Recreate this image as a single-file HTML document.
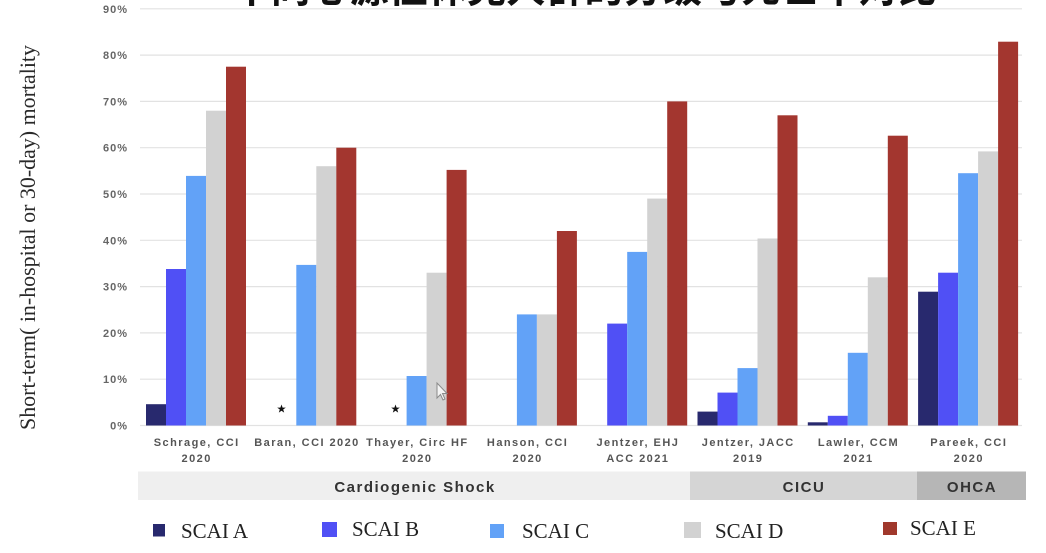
<!DOCTYPE html>
<html>
<head>
<meta charset="utf-8">
<style>
  html,body{margin:0;padding:0;background:#ffffff;}
  body{width:1046px;height:553px;overflow:hidden;}
  svg{display:block;}
  .tick{font-family:"Liberation Sans",sans-serif;font-weight:bold;font-size:11px;fill:#666;letter-spacing:1px;}
  .cat{font-family:"Liberation Sans",sans-serif;font-weight:bold;font-size:11px;fill:#555;letter-spacing:1.45px;}
  .band{font-family:"Liberation Sans",sans-serif;font-weight:bold;font-size:15px;fill:#333;letter-spacing:1.5px;}
  .leg{font-family:"Liberation Serif",serif;font-size:21px;fill:#222;}
  .ytitle{font-family:"Liberation Serif",serif;font-size:22px;fill:#2a2a2a;}
  .title{font-family:"Liberation Sans","Noto Sans CJK SC",sans-serif;font-weight:bold;font-size:40px;fill:#111;}
</style>
</head>
<body>
<svg width="1046" height="553" viewBox="0 0 1046 553" xmlns="http://www.w3.org/2000/svg">
  <rect x="0" y="0" width="1046" height="553" fill="#ffffff"/>

  <!-- cut-off title -->
  <text class="title" x="232" y="2" textLength="705" lengthAdjust="spacingAndGlyphs">不同心源性休克人群的分级与死亡率对比</text>

  <!-- gridlines -->
  <g stroke="#e2e2e2" stroke-width="1.2">
    <line x1="140" y1="425.5" x2="1022" y2="425.5"/>
    <line x1="140" y1="379.2" x2="1022" y2="379.2"/>
    <line x1="140" y1="332.9" x2="1022" y2="332.9"/>
    <line x1="140" y1="286.6" x2="1022" y2="286.6"/>
    <line x1="140" y1="240.3" x2="1022" y2="240.3"/>
    <line x1="140" y1="194.0" x2="1022" y2="194.0"/>
    <line x1="140" y1="147.7" x2="1022" y2="147.7"/>
    <line x1="140" y1="101.4" x2="1022" y2="101.4"/>
    <line x1="140" y1="55.1" x2="1022" y2="55.1"/>
    <line x1="140" y1="8.8" x2="1022" y2="8.8"/>
  </g>

  <!-- tick labels -->
  <g class="tick" text-anchor="end">
    <text x="128" y="429.5">0%</text>
    <text x="128" y="383.2">10%</text>
    <text x="128" y="336.9">20%</text>
    <text x="128" y="290.6">30%</text>
    <text x="128" y="244.3">40%</text>
    <text x="128" y="198.0">50%</text>
    <text x="128" y="151.7">60%</text>
    <text x="128" y="105.4">70%</text>
    <text x="128" y="59.1">80%</text>
    <text x="128" y="12.8">90%</text>
  </g>

  <!-- y axis title -->
  <text class="ytitle" transform="translate(35,237.5) rotate(-90)" text-anchor="middle" textLength="385" lengthAdjust="spacingAndGlyphs">Short-term( in-hospital or 30-day) mortality</text>

  <!-- G1 Schrage -->
  <rect x="146" y="404.2" width="20" height="21.3" fill="#28296e"/>
  <rect x="166" y="269.0" width="20" height="156.5" fill="#5050f5"/>
  <rect x="186" y="175.9" width="20" height="249.6" fill="#62a2f7"/>
  <rect x="206" y="110.7" width="20" height="314.8" fill="#d2d2d2"/>
  <rect x="226" y="66.7" width="20" height="358.8" fill="#a3362f"/>

  <!-- G2 Baran -->
  <rect x="296.3" y="264.9" width="20" height="160.6" fill="#62a2f7"/>
  <rect x="316.3" y="166.2" width="20" height="259.3" fill="#d2d2d2"/>
  <rect x="336.3" y="147.7" width="20" height="277.8" fill="#a3362f"/>

  <!-- G3 Thayer -->
  <rect x="406.6" y="376.0" width="20" height="49.5" fill="#62a2f7"/>
  <rect x="426.6" y="272.7" width="20" height="152.8" fill="#d2d2d2"/>
  <rect x="446.6" y="169.9" width="20" height="255.6" fill="#a3362f"/>

  <!-- G4 Hanson -->
  <rect x="516.9" y="314.4" width="20" height="111.1" fill="#62a2f7"/>
  <rect x="536.9" y="314.4" width="20" height="111.1" fill="#d2d2d2"/>
  <rect x="556.9" y="231.0" width="20" height="194.5" fill="#a3362f"/>

  <!-- G5 Jentzer EHJ -->
  <rect x="607.2" y="323.6" width="20" height="101.9" fill="#5050f5"/>
  <rect x="627.2" y="251.9" width="20" height="173.6" fill="#62a2f7"/>
  <rect x="647.2" y="198.6" width="20" height="226.9" fill="#d2d2d2"/>
  <rect x="667.2" y="101.4" width="20" height="324.1" fill="#a3362f"/>

  <!-- G6 Jentzer JACC -->
  <rect x="697.5" y="411.6" width="20" height="13.9" fill="#28296e"/>
  <rect x="717.5" y="392.6" width="20" height="32.9" fill="#5050f5"/>
  <rect x="737.5" y="368.1" width="20" height="57.4" fill="#62a2f7"/>
  <rect x="757.5" y="238.5" width="20" height="187.0" fill="#d2d2d2"/>
  <rect x="777.5" y="115.3" width="20" height="310.2" fill="#a3362f"/>

  <!-- G7 Lawler -->
  <rect x="807.8" y="422.3" width="20" height="3.2" fill="#28296e"/>
  <rect x="827.8" y="415.8" width="20" height="9.7" fill="#5050f5"/>
  <rect x="847.8" y="352.8" width="20" height="72.7" fill="#62a2f7"/>
  <rect x="867.8" y="277.3" width="20" height="148.2" fill="#d2d2d2"/>
  <rect x="887.8" y="135.7" width="20" height="289.8" fill="#a3362f"/>

  <!-- G8 Pareek -->
  <rect x="918.1" y="291.7" width="20" height="133.8" fill="#28296e"/>
  <rect x="938.1" y="272.7" width="20" height="152.8" fill="#5050f5"/>
  <rect x="958.1" y="173.2" width="20" height="252.3" fill="#62a2f7"/>
  <rect x="978.1" y="151.4" width="20" height="274.1" fill="#d2d2d2"/>
  <rect x="998.1" y="41.7" width="20" height="383.8" fill="#a3362f"/>

  <!-- stars -->
  <polygon fill="#111" transform="translate(281.5,409)" points="0,-4.5 1.1,-1.4 4.3,-1.4 1.7,0.5 2.7,3.6 0,1.7 -2.7,3.6 -1.7,0.5 -4.3,-1.4 -1.1,-1.4"/>
  <polygon fill="#111" transform="translate(395.5,409)" points="0,-4.5 1.1,-1.4 4.3,-1.4 1.7,0.5 2.7,3.6 0,1.7 -2.7,3.6 -1.7,0.5 -4.3,-1.4 -1.1,-1.4"/>

  <!-- cursor -->
  <path d="M437,383 L437,398 L440.5,394.5 L443,400 L445,399 L442.5,393.5 L447,393.5 Z" fill="#f4f4f4" stroke="#8a8a8a" stroke-width="1"/>

  <!-- category labels -->
  <g class="cat" text-anchor="middle">
    <text x="196.7" y="446">Schrage, CCI</text>
    <text x="196.7" y="462">2020</text>
    <text x="307" y="446">Baran, CCI 2020</text>
    <text x="417.3" y="446">Thayer, Circ HF</text>
    <text x="417.3" y="462">2020</text>
    <text x="527.6" y="446">Hanson, CCI</text>
    <text x="527.6" y="462">2020</text>
    <text x="637.9" y="446">Jentzer, EHJ</text>
    <text x="637.9" y="462">ACC 2021</text>
    <text x="748.2" y="446">Jentzer, JACC</text>
    <text x="748.2" y="462">2019</text>
    <text x="858.5" y="446">Lawler, CCM</text>
    <text x="858.5" y="462">2021</text>
    <text x="968.8" y="446">Pareek, CCI</text>
    <text x="968.8" y="462">2020</text>
  </g>

  <!-- group bands -->
  <rect x="138" y="471.5" width="552" height="28.5" fill="#efefef"/>
  <rect x="690" y="471.5" width="227" height="28.5" fill="#d5d5d5"/>
  <rect x="917" y="471.5" width="109" height="28.5" fill="#b6b6b6"/>
  <g class="band" text-anchor="middle">
    <text x="415" y="492">Cardiogenic Shock</text>
    <text x="804" y="492">CICU</text>
    <text x="972" y="492">OHCA</text>
  </g>

  <!-- legend -->
  <rect x="153" y="524" width="12" height="12.5" fill="#28296e"/>
  <text class="leg" x="181" y="538">SCAI A</text>
  <rect x="322" y="522" width="15" height="15" fill="#5050f5"/>
  <text class="leg" x="352" y="536">SCAI B</text>
  <rect x="490" y="524" width="14" height="14" fill="#62a2f7"/>
  <text class="leg" x="522" y="538">SCAI C</text>
  <rect x="684" y="522" width="17" height="16" fill="#d2d2d2"/>
  <text class="leg" x="715" y="538">SCAI D</text>
  <rect x="883" y="522" width="14" height="13" fill="#a0382c"/>
  <text class="leg" x="910" y="535">SCAI E</text>
</svg>
</body>
</html>
